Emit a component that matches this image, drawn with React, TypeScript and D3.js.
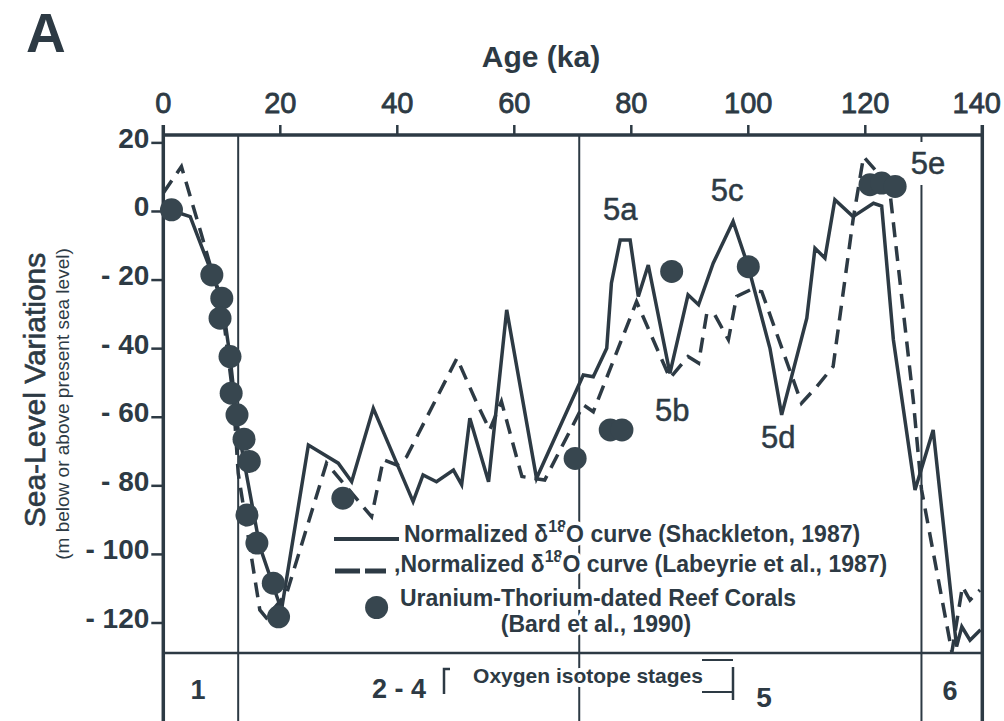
import React from "react";
import * as d3 from "d3";

// ---------- data ----------
const ageTicks = [0, 20, 40, 60, 80, 100, 120, 140];
const levelTicks = [20, 0, -20, -40, -60, -80, -100, -120];
const levelTickLabels = ["20", "0", "- 20", "- 40", "- 60", "- 80", "- 100", "- 120"];
const stageBoundaries = [12.8, 71.1, 129.6];

// Normalized d18O curve (Shackleton, 1987): [age ka, sea level m]
const shackleton: [number, number][] = [
  [1, 0.5], [4.6, -1.5], [8.3, -18], [10, -25.3], [11.4, -42.3], [12.7, -62.7],
  [16.5, -97.7], [20.2, -116.2], [24.8, -68.1], [29.9, -73.4], [32.2, -78.8],
  [35.9, -57.4], [42.7, -84.6], [44.4, -76.8], [46.7, -78.8], [49.6, -75.4],
  [51.0, -79.7], [52.4, -60.3], [55.6, -78.8], [58.7, -28.7], [63.8, -77.8],
  [71.8, -47.7], [73.5, -48.2], [75.8, -39.9], [76.6, -20.9], [78.1, -8.3],
  [79.8, -8.3], [81.2, -24.8], [82.9, -15.6], [86.6, -47.2], [89.7, -24.3],
  [91.5, -27.2], [94.0, -15.1], [97.4, -2.9], [100.0, -16.1], [103.7, -39.9],
  [105.7, -59.3], [110.0, -31.1], [111.4, -10.7], [113.1, -13.6], [114.8, 3.4],
  [117.9, -1.5], [121.4, 2.4], [122.8, 1.6], [124.8, -37.4], [128.5, -81.2],
  [131.6, -63.7], [135.6, -126.9], [136.5, -121.1], [137.9, -125], [139.7, -122],
];

// Normalized d18O curve (Labeyrie et al., 1987)
const labeyrie: [number, number][] = [
  [0, 5.4], [3.1, 13.1], [6.3, -5.4], [7.6, -13.2], [10, -27], [12, -55],
  [12.8, -76.3], [16.5, -116.2], [17.6, -118.5], [21.1, -111.3], [27.9, -73.4],
  [35.6, -89], [37.6, -72.4], [39.9, -73.9], [41.6, -71.5], [50.2, -42.8],
  [53.6, -55.9], [55.8, -63.7], [57.8, -55.4], [61.3, -77.3], [65.2, -78.3],
  [71.8, -56.4], [73.5, -58.4], [80.9, -26.3], [86.6, -48.6], [89.7, -42.3],
  [91.5, -44.2], [92.9, -29.7], [94.3, -30.2], [96.6, -37.4], [98.0, -24.8],
  [100.3, -22.9], [102.3, -23.4], [109.1, -55.9], [111.7, -51.1], [114.5, -45.2],
  [117.9, -2.5], [119.7, 16.0], [121.7, 12.1], [124.3, 4.3], [128.2, -55],
  [129.6, -81], [134.8, -128.5], [136.6, -109.4], [137.9, -113.3], [139.6, -110.4],
];

// Uranium-Thorium-dated reef corals (Bard et al., 1990)
const corals: [number, number][] = [
  [1.4, 0.5], [8.3, -18.5], [10.0, -25.3], [9.7, -31.1], [11.4, -42.3], [11.6, -53],
  [12.6, -59.3], [13.8, -66.4], [14.7, -72.9], [14.3, -88.5], [16.0, -96.7],
  [18.8, -108.4], [19.7, -118.2], [30.7, -83.6], [70.4, -72], [76.4, -63.7],
  [78.4, -63.7], [86.9, -17.5], [100.0, -16.1], [120.8, 7.8], [122.8, 8.3], [125.1, 7.3],
];

const substageNames = ["5a", "5b", "5c", "5d", "5e"];
const substageAges = [78.1, 87.0, 96.4, 105.1, 130.7];
const substageLevels = [0.8, -57.9, 6.3, -65.7, 14.2];

// ---------- style ----------
const INK = "#2d3a44";
const DOT = "#37464f";
const FONT = "'Liberation Sans', Arial, Helvetica, sans-serif";

export default function App() {
  const x = d3.scaleLinear().domain([0, 140]).range([163.3, 982.3]);
  const y = d3.scaleLinear().domain([-128.75, 22.3]).range([653, 135]);
  const line = d3
    .line<[number, number]>()
    .x((d) => x(d[0]))
    .y((d) => y(d[1]));

  const top = y(22.3);
  const plotBottom = y(-128.75);
  const W = 1004;
  const H = 721;

  const halo = {
    stroke: "#ffffff",
    strokeWidth: 8,
    paintOrder: "stroke" as const,
    strokeLinejoin: "round" as const,
  };

  return (
    <svg
      width={W}
      height={H}
      viewBox={`0 0 ${W} ${H}`}
      style={{ position: "absolute", left: 0, top: 0, display: "block", background: "#ffffff" }}
      fontFamily={FONT}
    >
      <rect x={0} y={0} width={W} height={H} fill="#ffffff" />

      {/* panel letter */}
      <text x={26} y={52} fontSize={55} fontWeight="bold" fill={INK}>
        A
      </text>

      {/* x title */}
      <text x={541} y={67} fontSize={30} fontWeight="bold" fill={INK} textAnchor="middle">
        Age (ka)
      </text>

      {/* top axis ticks and labels */}
      {ageTicks.map((t, i) => (
        <g key={"xt" + t}>
          <line x1={x(t)} x2={x(t)} y1={top - 10} y2={top} stroke={INK} strokeWidth={2.5} />
          <text
            x={i === ageTicks.length - 1 ? 1001 : x(t)}
            y={113}
            fontSize={29}
            fill={INK}
            stroke={INK}
            strokeWidth={0.8}
            textAnchor={i === ageTicks.length - 1 ? "end" : "middle"}
          >
            {t}
          </text>
        </g>
      ))}

      {/* left axis ticks and labels */}
      {levelTicks.map((t, i) => (
        <g key={"yt" + t}>
          <line x1={x(0) - 12} x2={x(0)} y1={y(t)} y2={y(t)} stroke={INK} strokeWidth={2.5} />
          <text x={x(0) - 14} y={y(t) + 5} fontSize={28} fontWeight="bold" fill={INK} textAnchor="end">
            {levelTickLabels[i]}
          </text>
        </g>
      ))}

      {/* y titles */}
      <text
        transform={`translate(45,390) rotate(-90)`}
        fontSize={30}
        fill={INK}
        stroke={INK}
        strokeWidth={0.6}
        textAnchor="middle"
      >
        Sea-Level Variations
      </text>
      <text
        transform={`translate(69,404) rotate(-90)`}
        fontSize={19}
        fill={INK}
        textAnchor="middle"
      >
        (m below or above present sea level)
      </text>

      {/* frame */}
      <line x1={x(0)} x2={x(140)} y1={top} y2={top} stroke={INK} strokeWidth={3.5} />
      <line x1={x(0)} x2={x(0)} y1={top - 10} y2={H} stroke={INK} strokeWidth={3.5} />
      <line x1={x(140)} x2={x(140)} y1={top - 10} y2={H} stroke={INK} strokeWidth={3.5} />
      <line x1={x(0)} x2={x(140)} y1={plotBottom} y2={plotBottom} stroke={INK} strokeWidth={2.5} />

      {/* stage boundaries */}
      <line x1={x(stageBoundaries[0])} x2={x(stageBoundaries[0])} y1={top} y2={H} stroke={INK} strokeWidth={2} />
      <line x1={x(stageBoundaries[1])} x2={x(stageBoundaries[1])} y1={top} y2={H} stroke={INK} strokeWidth={2} />
      <line x1={x(stageBoundaries[2])} x2={x(stageBoundaries[2])} y1={top} y2={top + 7} stroke={INK} strokeWidth={2} />
      <line x1={x(stageBoundaries[2])} x2={x(stageBoundaries[2])} y1={185} y2={H} stroke={INK} strokeWidth={2} />

      {/* curves */}
      <path d={line(labeyrie) ?? ""} fill="none" stroke={INK} strokeWidth={3.5} strokeDasharray="15 9" />
      <path d={line(shackleton) ?? ""} fill="none" stroke={INK} strokeWidth={3.5} strokeLinejoin="miter" />

      {/* corals */}
      {corals.map((d, i) => (
        <circle key={"c" + i} cx={x(d[0])} cy={y(d[1])} r={11.5} fill={DOT} />
      ))}

      {/* substage labels */}
      {substageNames.map((s, i) => (
        <text
          key={s}
          x={x(substageAges[i])}
          y={y(substageLevels[i]) + 11}
          fontSize={31}
          fill={INK}
          stroke={INK}
          strokeWidth={0.5}
          textAnchor="middle"
        >
          {s}
        </text>
      ))}

      {/* legend */}
      <line x1={334} x2={399} y1={539} y2={539} stroke={INK} strokeWidth={4} />
      <text x={404} y={542} fontSize={23} fontWeight="bold" fill={INK} {...halo}>
        Normalized δ
        <tspan fontSize={16} dy={-10}>18</tspan>
        <tspan dy={10}>O curve (Shackleton, 1987)</tspan>
      </text>
      <line x1={335} x2={386} y1={571} y2={571} stroke={INK} strokeWidth={5} strokeDasharray="25 5" />
      <text x={394} y={572} fontSize={23} fontWeight="bold" fill={INK} {...halo}>
        ,Normalized δ
        <tspan fontSize={16} dy={-10}>18</tspan>
        <tspan dy={10}>O curve (Labeyrie et al., 1987)</tspan>
      </text>
      <circle cx={376.6} cy={607.5} r={11.5} fill={DOT} />
      <text x={400} y={606} fontSize={23} fontWeight="bold" fill={INK} {...halo}>
        Uranium-Thorium-dated Reef Corals
      </text>
      <text x={596} y={632} fontSize={23} fontWeight="bold" fill={INK} textAnchor="middle" {...halo}>
        (Bard et al., 1990)
      </text>

      {/* isotope stage box */}
      <text x={198} y={699} fontSize={27} fontWeight="bold" fill={INK} textAnchor="middle">
        1
      </text>
      <text x={399} y={698} fontSize={27} fontWeight="bold" fill={INK} textAnchor="middle">
        2 - 4
      </text>
      <path d="M450,669 H444 V694" fill="none" stroke={INK} strokeWidth={2.5} />
      <text x={588} y={683} fontSize={21} fontWeight="bold" fill={INK} textAnchor="middle" {...halo}>
        Oxygen isotope stages
      </text>
      <line x1={702} x2={733} y1={660} y2={660} stroke={INK} strokeWidth={2} />
      <line x1={702} x2={733} y1={692} y2={692} stroke={INK} strokeWidth={2} />
      <line x1={733} x2={733} y1={667} y2={700} stroke={INK} strokeWidth={2.5} />
      <text x={764} y={707} fontSize={28} fontWeight="bold" fill={INK} textAnchor="middle">
        5
      </text>
      <text x={950} y={700} fontSize={27} fontWeight="bold" fill={INK} textAnchor="middle">
        6
      </text>
    </svg>
  );
}
